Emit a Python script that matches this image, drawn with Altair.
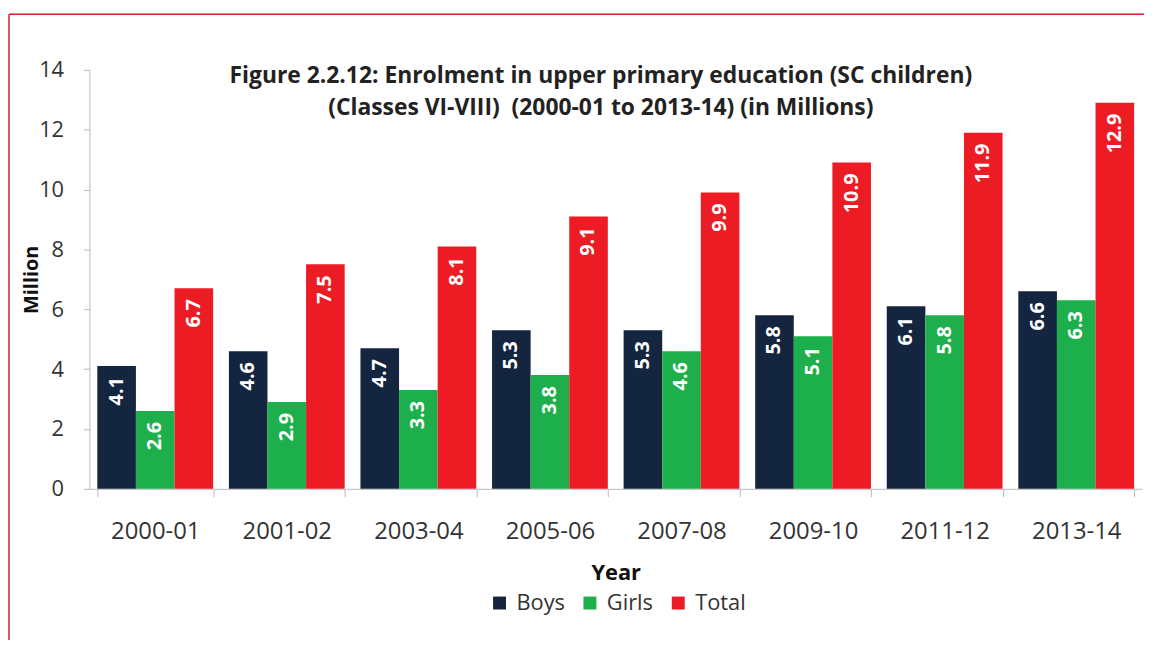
import altair as alt
import pandas as pd

years = ["2000-01", "2001-02", "2003-04", "2005-06", "2007-08", "2009-10", "2011-12", "2013-14"]
boys = [4.1, 4.6, 4.7, 5.3, 5.3, 5.8, 6.1, 6.6]
girls = [2.6, 2.9, 3.3, 3.8, 4.6, 5.1, 5.8, 6.3]
total = [6.7, 7.5, 8.1, 9.1, 9.9, 10.9, 11.9, 12.9]
series = ["Boys", "Girls", "Total"]
colors = ["#13253F", "#1DAF4B", "#ED1C24"]
title_lines = "Figure 2.2.12: Enrolment in upper primary education (SC children)\n(Classes VI-VIII)\u00a0 (2000-01 to 2013-14) (in Millions)"

rows = []
for i, y in enumerate(years):
    for s, vals in zip(series, [boys, girls, total]):
        rows.append({"Year": y, "Series": s, "Value": vals[i], "Label": f"{vals[i]:.1f}"})
df = pd.DataFrame(rows)

FONT = "Open Sans"

x = alt.X("Year:N", sort=years, title="Year",
          scale=alt.Scale(paddingInner=0.12, paddingOuter=0.06),
          axis=alt.Axis(labelAngle=0, tickBand="extent", tickSize=8, labelPadding=23,
                        titlePadding=19, labelFontSize=24, titleFontSize=22,
                        labelColor="#333333", titleColor="#111111", titleFontWeight="bold",
                        domainColor="#BBBBBB", tickColor="#BBBBBB"))
y = alt.Y("Value:Q", title="Million",
          scale=alt.Scale(domain=[0, 14], nice=False),
          axis=alt.Axis(values=[0, 2, 4, 6, 8, 10, 12, 14], grid=False, tickSize=6,
                        labelPadding=20, titlePadding=-3, labelFontSize=22, titleFontSize=20,
                        labelColor="#333333", titleColor="#111111", titleFontWeight="bold",
                        domainColor="#BBBBBB", tickColor="#BBBBBB"))
color = alt.Color("Series:N", sort=series, title=None,
                  scale=alt.Scale(domain=series, range=colors),
                  legend=alt.Legend(orient="none", legendX=402, legendY=526, direction="horizontal",
                                    symbolType="square", symbolSize=170, symbolStrokeWidth=0,
                                    labelFontSize=22, labelColor="#333333", columnPadding=14,
                                    labelOffset=6))
xo = alt.XOffset("Series:N", sort=series, scale=alt.Scale(paddingInner=0, paddingOuter=0))

base = alt.Chart(df)
bars = base.mark_bar(strokeWidth=0).encode(x=x, y=y, color=color, xOffset=xo)
labels = base.mark_text(angle=270, align="right", baseline="middle", dx=-11,
                        color="white", fontWeight="bold", fontSize=20, font=FONT).encode(
    x=alt.X("Year:N", sort=years), y=alt.Y("Value:Q"), xOffset=xo, text="Label:N")

one = pd.DataFrame({"t": [title_lines]})
title = alt.Chart(one).mark_text(align="center", baseline="top", lineBreak="\n", lineHeight=33,
                                 fontSize=23, fontWeight="bold", color="#222222", font=FONT).encode(
    x=alt.value(515), y=alt.value(-5), text="t:N")

border_left = alt.Chart(one).mark_rule(color="#D42027", strokeWidth=1.5, clip=False).encode(
    x=alt.value(-81), y=alt.value(-56), y2=alt.value(600))
border_top = alt.Chart(one).mark_rule(color="#D42027", strokeWidth=1.5, clip=False).encode(
    x=alt.value(-81), x2=alt.value(1080), y=alt.value(-56))

chart = alt.layer(bars, labels, title, border_left, border_top).properties(
    width=1060, height=422,
    padding={"left": 82, "top": 60, "right": 2, "bottom": 150},
    autosize=alt.AutoSizeParams(type="none"),
).configure(font=FONT).configure_view(stroke=None)

chart.save("out.html", embed_options={"renderer": "svg", "actions": False})
